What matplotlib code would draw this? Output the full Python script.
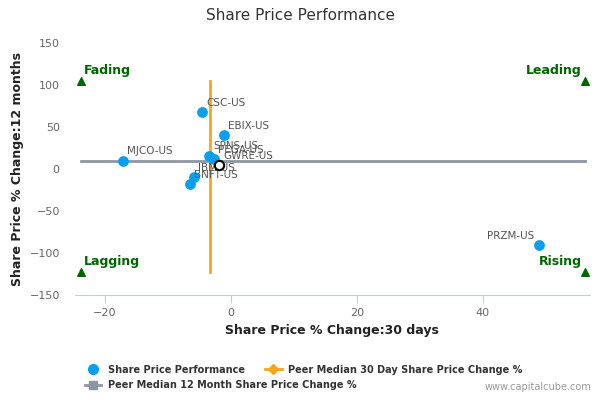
import matplotlib.pyplot as plt
from matplotlib.lines import Line2D

# peers: 30 day change vs 12 month change
tickers = ['CSC-US', 'EBIX-US', 'MJCO-US', 'SPNS-US', 'PEGA-US', 'IBM-US', 'BNFT-US', 'PRZM-US']
chg_30d = [-4.6, -1.1, -17.2, -3.5, -2.7, -5.9, -6.5, 48.9]
chg_12m = [67.9, 40.5, 10.0, 16.0, 12.0, -9.5, -17.9, -90.5]

subject = 'GWRE-US'
subject_30d = -1.9
subject_12m = 5.0

median_30d = -3.3
median_12m = 10.0

# quadrant markers
quad_names = ['Fading', 'Leading', 'Lagging', 'Rising']
quad_x = [-23.8, 56.2, -23.8, 56.2]
quad_y = [105, 105, -123, -123]

blue = '#0A9EEF'
orange = '#F7A51E'
grey = '#8E96A4'
green = '#006600'

fig = plt.figure(figsize=(6, 4), dpi=100)
ax = fig.add_axes([0.125, 0.2625, 0.858, 0.63])

ax.plot([median_30d, median_30d], [min(quad_y), max(quad_y)], color=orange, lw=2, zorder=2)
ax.plot([min(quad_x), max(quad_x)], [median_12m, median_12m], color=grey, lw=2, zorder=2)

ax.scatter(chg_30d, chg_12m, s=60, color=blue, zorder=3, linewidths=0)
ax.scatter([subject_30d], [subject_12m], s=45, facecolor='white', edgecolor='black',
           linewidths=1.5, zorder=4)

for t, x, y in zip(tickers, chg_30d, chg_12m):
    if x > 40:
        ax.annotate(t, (x, y), xytext=(-3, 3), textcoords='offset points',
                    ha='right', va='bottom', fontsize=7.5, color='#555555')
    else:
        ax.annotate(t, (x, y), xytext=(3, 3), textcoords='offset points',
                    ha='left', va='bottom', fontsize=7.5, color='#555555')
ax.annotate(subject, (subject_30d, subject_12m), xytext=(3, 3), textcoords='offset points',
            ha='left', va='bottom', fontsize=7.5, color='#555555')

ax.scatter(quad_x, quad_y, marker='^', s=30, color=green, zorder=3)
for name, x, y in zip(quad_names, quad_x, quad_y):
    if x > 0:
        ax.annotate(name, (x, y), xytext=(-2, 3), textcoords='offset points',
                    ha='right', va='bottom', fontsize=9, fontweight='bold', color=green)
    else:
        ax.annotate(name, (x, y), xytext=(2, 3), textcoords='offset points',
                    ha='left', va='bottom', fontsize=9, fontweight='bold', color=green)

ax.set_xlim(-24.76, 57.0)
ax.set_ylim(-150, 150)
ax.set_xticks([-20, 0, 20, 40])
ax.set_yticks([-150, -100, -50, 0, 50, 100, 150])

for s in ['top', 'right', 'left']:
    ax.spines[s].set_visible(False)
ax.spines['bottom'].set_color('#C0D0E0')
ax.tick_params(axis='x', colors='#C0D0E0', labelcolor='#666666', labelsize=8, length=6)
ax.tick_params(axis='y', length=0, labelcolor='#666666', labelsize=8, pad=11)

ax.set_xlabel('Share Price % Change:30 days', fontsize=9, fontweight='bold', color='#222222')
ax.set_ylabel('Share Price % Change:12 months', fontsize=9, fontweight='bold',
              color='#222222', labelpad=4)

fig.text(0.5, 0.96, 'Share Price Performance', ha='center', va='center',
         fontsize=11, color='#333333')

# legend, two rows like the original
h_blue = Line2D([], [], marker='o', ls='none', color=blue, markersize=7)
h_orange = Line2D([], [], marker='D', color=orange, lw=2, markersize=5)
h_grey = Line2D([], [], marker='s', color=grey, lw=2, markersize=6)

leg_kw = dict(loc='upper left', frameon=False, fontsize=7, handlelength=1.65,
              handletextpad=0.7, borderaxespad=0, borderpad=0)
leg1 = fig.legend([h_blue, h_orange],
                  ['Share Price Performance', 'Peer Median 30 Day Share Price Change %'],
                  bbox_to_anchor=(0.142, 0.088), ncol=2, columnspacing=2.1, **leg_kw)
leg2 = fig.legend([h_grey], ['Peer Median 12 Month Share Price Change %'],
                  bbox_to_anchor=(0.142, 0.05), **leg_kw)
for leg in [leg1, leg2]:
    for txt in leg.get_texts():
        txt.set_fontweight('bold')
        txt.set_color('#333333')

fig.text(0.985, 0.02, 'www.capitalcube.com', ha='right', va='bottom',
         fontsize=7, color='#999999')

fig.savefig('out.png', dpi=100)
